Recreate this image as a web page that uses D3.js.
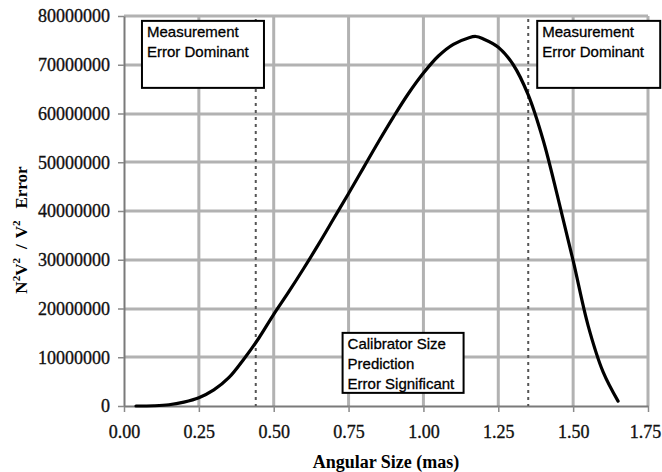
<!DOCTYPE html>
<html>
<head>
<meta charset="utf-8">
<script src="https://cdn.jsdelivr.net/npm/d3@7"></script>
<style>
  body { margin: 0; background: #fff; }
  svg { display: block; }
</style>
</head>
<body>
<div id="chart"></div>
<script>
// curve: angular size (mas) vs N^2V^2 / V^2 error
const sizes  = [0.04, 0.10, 0.15, 0.20, 0.25, 0.30, 0.35, 0.40, 0.45, 0.50, 0.55, 0.60, 0.65, 0.70, 0.75, 0.80, 0.85, 0.90, 0.95, 1.00, 1.05, 1.10, 1.15, 1.175, 1.20, 1.25, 1.30, 1.35, 1.40, 1.45, 1.50, 1.55, 1.60, 1.65];
const errors = [0, 50000, 250000, 800000, 1700000, 3300000, 5800000, 9600000, 13900000, 18800000, 23400000, 28200000, 33200000, 38400000, 43600000, 48900000, 54200000, 59300000, 64100000, 68300000, 71800000, 74200000, 75500000, 75800000, 75300000, 73600000, 70000000, 63800000, 54500000, 42500000, 29800000, 16500000, 7000000, 1000000];

const xTicks = [0, 0.25, 0.5, 0.75, 1.0, 1.25, 1.5, 1.75];
const yTicks = [0, 10000000, 20000000, 30000000, 40000000, 50000000, 60000000, 70000000, 80000000];
const boundaries = [0.44, 1.35];

const notes = [
  {x: 0.06, y: 79000000, w: 122, lines: ["Measurement", "Error Dominant"]},
  {x: 1.38, y: 79000000, w: 123, lines: ["Measurement", "Error Dominant"]},
  {x: 0.73, y: 15000000, w: 121, lines: ["Calibrator Size", "Prediction", "Error Significant"]}
];

const W = 662, H = 472;
const margin = {top: 16, right: 14, bottom: 66, left: 124};
const width = W - margin.left - margin.right,
      height = H - margin.top - margin.bottom;

const svg = d3.select('#chart').append('svg')
  .attr('width', W)
  .attr('height', H);

const g = svg.append('g')
  .attr('transform', `translate(${margin.left},${margin.top})`);

const x = d3.scaleLinear().domain([0, 1.75]).range([0, width]);
const y = d3.scaleLinear().domain([0, 80000000]).range([height, 0]);

// grid
g.selectAll('line.hgrid').data(yTicks.slice(1)).join('line')
  .attr('class', 'hgrid')
  .attr('x1', 0).attr('x2', width)
  .attr('y1', d => Math.round(y(d))).attr('y2', d => Math.round(y(d)))
  .attr('stroke', 'rgb(178,178,178)')
  .attr('stroke-width', 3);
g.selectAll('line.vgrid').data(xTicks.slice(1)).join('line')
  .attr('class', 'vgrid')
  .attr('x1', d => x(d)).attr('x2', d => x(d))
  .attr('y1', 0).attr('y2', height)
  .attr('stroke', 'rgb(178,178,178)')
  .attr('stroke-width', 3);

// axes
const xAxis = g.append('g')
  .attr('transform', `translate(0,${height})`)
  .call(d3.axisBottom(x).tickValues(xTicks).tickFormat(d3.format('.2f')).tickSizeInner(6).tickSizeOuter(0).tickPadding(13));

const yAxis = g.append('g')
  .call(d3.axisLeft(y).tickValues(yTicks).tickFormat(d => String(d)).tickSizeInner(6).tickSizeOuter(0).tickPadding(8));

[xAxis, yAxis].forEach(a => {
  a.select('.domain').attr('stroke', '#7a7a7a').attr('stroke-width', 2);
  a.selectAll('.tick line').attr('stroke', '#8a8a8a').attr('stroke-width', 1.5);
  a.selectAll('.tick text')
    .attr('fill', '#111')
    .attr('stroke', '#111')
    .attr('stroke-width', 0.35)
    .style('font-family', '"Liberation Serif", "Times New Roman", serif')
    .style('font-size', '18px');
});
// last x label sits at the page edge
xAxis.selectAll('.tick text').filter(d => d === 1.75).attr('dx', -3);

// boundary lines
g.selectAll('.bound').data(boundaries).enter().append('line')
  .attr('class', 'bound')
  .attr('x1', d => x(d)).attr('x2', d => x(d))
  .attr('y1', 3).attr('y2', height)
  .attr('stroke', '#555').attr('stroke-width', 2)
  .attr('stroke-dasharray', '3,4');

// curve
const pts = sizes.map((s, i) => ({s: s, e: errors[i]}));
const line = d3.line()
  .x(d => x(d.s))
  .y(d => y(d.e))
  .curve(d3.curveCatmullRom.alpha(0.5));

g.append('path')
  .datum(pts)
  .attr('d', line)
  .attr('fill', 'none')
  .attr('stroke', '#000')
  .attr('stroke-width', 3.2)
  .attr('stroke-linejoin', 'round')
  .attr('stroke-linecap', 'round');

// note boxes
const lineH = 20;
notes.forEach(n => {
  const bx = x(n.x), by = y(n.y);
  const bh = n.lines.length === 3 ? 60 : 67;
  const box = g.append('g').attr('transform', `translate(${bx},${by})`);
  box.append('rect')
    .attr('width', n.w).attr('height', bh)
    .attr('fill', '#fff').attr('stroke', '#000').attr('stroke-width', 2);
  box.selectAll('text').data(n.lines).enter().append('text')
    .attr('x', 5)
    .attr('y', (d, i) => 16 + i * lineH)
    .text(d => d)
    .attr('fill', '#000')
    .attr('stroke', '#000')
    .attr('stroke-width', 0.3)
    .style('font-family', '"Liberation Sans", Arial, sans-serif')
    .style('font-size', '15px');
});

// axis titles
svg.append('text')
  .attr('x', margin.left + width / 2)
  .attr('y', 468)
  .attr('text-anchor', 'middle')
  .style('font-family', '"Liberation Serif", "Times New Roman", serif')
  .style('font-size', '18px')
  .style('font-weight', 'bold')
  .text('Angular Size (mas)');

const yt = svg.append('text')
  .attr('transform', 'translate(27,230) rotate(-90)')
  .attr('text-anchor', 'middle')
  .style('font-family', '"Liberation Serif", "Times New Roman", serif')
  .style('font-size', '17px')
  .style('font-weight', 'bold');
yt.append('tspan').text('N');
yt.append('tspan').attr('dy', -7).style('font-size', '11px').text('2');
yt.append('tspan').attr('dy', 7).text('V');
yt.append('tspan').attr('dy', -7).style('font-size', '11px').text('2');
yt.append('tspan').attr('dy', 7).attr('dx', 9).text('/');
yt.append('tspan').attr('dx', 6).text('V');
yt.append('tspan').attr('dy', -7).style('font-size', '11px').text('2');
yt.append('tspan').attr('dy', 7).attr('dx', 12).text('Error');
</script>
</body>
</html>
